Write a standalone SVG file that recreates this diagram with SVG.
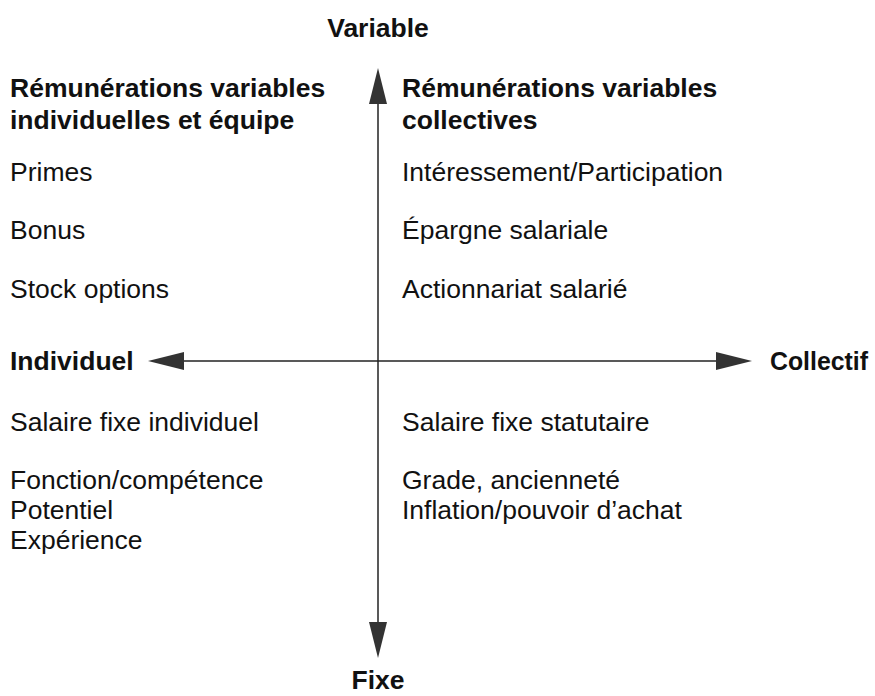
<svg xmlns="http://www.w3.org/2000/svg" width="875" height="696" viewBox="0 0 875 696">
  <style>
    text { font-family: "Liberation Sans", Arial, Helvetica, sans-serif; font-size: 26.5px; fill: #111; }
    .b { font-weight: bold; }
    .axis { stroke: #222; stroke-width: 1.5; fill: none; }
    .head { fill: #333; }
  </style>
  <rect width="875" height="696" fill="#ffffff"/>

  <g id="connectors">
    <line class="axis" x1="378" y1="100" x2="378" y2="625"/>
    <line class="axis" x1="180" y1="361" x2="720" y2="361"/>
    <polygon class="head" points="378,68 369,104 387,104"/>
    <polygon class="head" points="378,658 369,622 387,622"/>
    <polygon class="head" points="148,361 184,352 184,370"/>
    <polygon class="head" points="752,361 716,352 716,370"/>
  </g>

  <g id="axis-variable"><text class="b" x="378" y="37" text-anchor="middle">Variable</text></g>
  <g id="axis-fixe"><text class="b" x="378" y="689" text-anchor="middle">Fixe</text></g>
  <g id="axis-individuel"><text class="b" x="10" y="370">Individuel</text></g>
  <g id="axis-collectif"><text class="b" x="868" y="370" text-anchor="end" textLength="98" lengthAdjust="spacingAndGlyphs">Collectif</text></g>

  <g id="quadrant-variable-individuel">
    <text class="b" x="10" y="97">Rémunérations variables</text>
    <text class="b" x="10" y="129">individuelles et équipe</text>
    <text x="10" y="181">Primes</text>
    <text x="10" y="239">Bonus</text>
    <text x="10" y="298">Stock options</text>
  </g>

  <g id="quadrant-variable-collectif">
    <text class="b" x="402" y="97">Rémunérations variables</text>
    <text class="b" x="402" y="129">collectives</text>
    <text x="402" y="181">Intéressement/Participation</text>
    <text x="402" y="239">Épargne salariale</text>
    <text x="402" y="298">Actionnariat salarié</text>
  </g>

  <g id="quadrant-fixe-individuel">
    <text x="10" y="431">Salaire fixe individuel</text>
    <text x="10" y="489">Fonction/compétence</text>
    <text x="10" y="519">Potentiel</text>
    <text x="10" y="549">Expérience</text>
  </g>

  <g id="quadrant-fixe-collectif">
    <text x="402" y="431">Salaire fixe statutaire</text>
    <text x="402" y="489">Grade, ancienneté</text>
    <text x="402" y="519">Inflation/pouvoir d’achat</text>
  </g>
</svg>
